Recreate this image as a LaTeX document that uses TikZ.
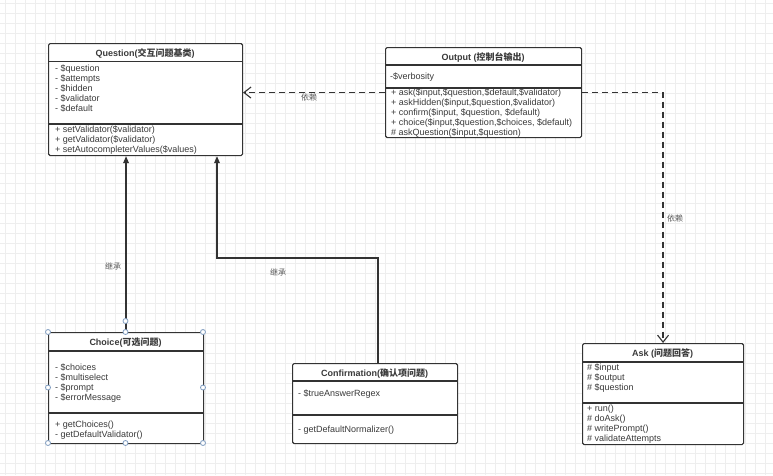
\documentclass[tikz,border=0pt]{standalone}
\usepackage{fontspec}
\setmainfont{Liberation Sans}
\newfontfamily\cjk{Noto Sans CJK SC}
\usetikzlibrary{arrows.meta}
\definecolor{linec}{HTML}{333333}
\definecolor{txtc}{HTML}{3A3A3A}
\definecolor{gridc}{HTML}{EEEEEE}
\definecolor{handlec}{HTML}{7F9CC0}
\newcommand{\zh}[1]{{\cjk #1}}
\newcommand{\memb}[4]{%
  \foreach \t [count=\i] in {#4} {%
    \node[mtxt] (#1\i) at ({#2},{#3+10*(\i-1)}) {\t};}}
\tikzset{
  umlbox/.style={draw=linec, line width=1.1pt, rounded corners=1.5pt, fill=white,
    inner sep=0pt, anchor=north west},
  mtxt/.style={anchor=base west, inner sep=0pt, text=txtc,
    font=\fontsize{9}{10}\selectfont},
  ttl/.style={anchor=base, inner sep=0pt, text=txtc,
    font=\fontsize{9}{10}\selectfont\bfseries},
  sepline/.style={draw=linec, line width=1.1pt},
  inherit/.style={draw=linec, line width=1.4pt, -{Triangle[length=7pt,width=5.5pt]}},
  depend/.style={draw=linec, line width=1.2pt, dash pattern=on 6pt off 4pt,
    -{Straight Barb[length=7pt,width=11pt,line width=1.1pt]}},
  lbl/.style={inner sep=0pt, text=txtc!85, font=\fontsize{8}{9}\selectfont},
  handle/.style={circle, draw=handlec, fill=white, line width=0.8pt,
    minimum size=5pt, inner sep=0pt}
}
\begin{document}
\begin{tikzpicture}[x=1pt,y=-1pt]
\useasboundingbox (0,0) rectangle (773,475);
\fill[white] (0,0) rectangle (773,475);
% grid
\foreach \gx in {5,15,...,775} \draw[gridc, line width=0.5pt] (\gx,0) -- (\gx,475);
\foreach \gy in {3,13,...,475} \draw[gridc, line width=0.5pt] (0,\gy) -- (773,\gy);

% ---------- Question ----------
\node[umlbox, minimum width=194pt, minimum height=112pt] (question) at (48,43) {};
\draw[sepline] (question.west |- 0,61.5) -- (question.east |- 0,61.5);
\draw[sepline] (question.west |- 0,124) -- (question.east |- 0,124);
\node[ttl] (questiont) at (145,56.5) {Question(\zh{交互问题基类})};
\memb{qa}{55}{71}{{- \$question},{- \$attempts},{- \$hidden},{- \$validator},{- \$default}}
\memb{qm}{55}{132}{{+ setValidator(\$validator)},{+ getValidator(\$validator)},{+ setAutocompleterValues(\$values)}}

% ---------- Output ----------
\node[umlbox, minimum width=196pt, minimum height=90pt] (output) at (385,47) {};
\draw[sepline] (output.west |- 0,65) -- (output.east |- 0,65);
\draw[sepline] (output.west |- 0,88) -- (output.east |- 0,88);
\node[ttl] (outputt) at (483,60.5) {Output (\zh{控制台输出})};
\memb{oa}{390}{79.5}{{-\$verbosity}}
\memb{om}{391}{95.5}{{+ ask(\$input,\$question,\$default,\$validator)},{+ askHidden(\$input,\$question,\$validator)},{+ confirm(\$input, \$question, \$default)},{+ choice(\$input,\$question,\$choices, \$default)},{\# askQuestion(\$input,\$question)}}

% ---------- Choice ----------
\node[umlbox, minimum width=155pt, minimum height=111pt] (choice) at (48,332) {};
\draw[sepline] (choice.west |- 0,351) -- (choice.east |- 0,351);
\draw[sepline] (choice.west |- 0,413) -- (choice.east |- 0,413);
\node[ttl] (choicet) at (125.5,345.5) {Choice(\zh{可选问题})};
\memb{ca}{55}{370.5}{{- \$choices},{- \$multiselect},{- \$prompt},{- \$errorMessage}}
\memb{cm}{55}{427.5}{{+ getChoices()},{- getDefaultValidator()}}

% ---------- Confirmation ----------
\node[umlbox, minimum width=165pt, minimum height=80pt] (conf) at (292,363) {};
\draw[sepline] (conf.west |- 0,381) -- (conf.east |- 0,381);
\draw[sepline] (conf.west |- 0,415) -- (conf.east |- 0,415);
\node[ttl] (conft) at (374.5,376.5) {Confirmation(\zh{确认项问题})};
\memb{fa}{298}{396.5}{{- \$trueAnswerRegex}}
\memb{fm}{298}{432.5}{{- getDefaultNormalizer()}}

% ---------- Ask ----------
\node[umlbox, minimum width=161pt, minimum height=101pt] (ask) at (582,343) {};
\draw[sepline] (ask.west |- 0,362) -- (ask.east |- 0,362);
\draw[sepline] (ask.west |- 0,403) -- (ask.east |- 0,403);
\node[ttl] (askt) at (662.5,356.5) {Ask (\zh{问题回答})};
\memb{aa}{587}{370.5}{{\# \$input},{\# \$output},{\# \$question}}
\memb{am}{587}{411}{{+ run()},{\# doAsk()},{\# writePrompt()},{\# validateAttempts}}

% ---------- connectors ----------
\draw[inherit] (choice.north) -- (choice.north |- question.south);
\coordinate (bend) at (217,258);
\draw[inherit] ([xshift=3pt]conf.north) |- (bend) -- (bend |- question.south);
\draw[depend] (output.west) -- (output.west -| question.east);
\draw[depend] (output.east) -| (ask.north);

\node[lbl] (l1) at (113,266) {\zh{继承}};
\node[lbl] (l2) at (278,272) {\zh{继承}};
\node[lbl] (l3) at (309,97) {\zh{依赖}};
\node[lbl] (l4) at (675,218) {\zh{依赖}};

% ---------- selection handles ----------
\foreach \hx/\hy [count=\k] in {48/332,125.5/332,203/332,48/387.5,203/387.5,48/443,125.5/443,203/443,125.5/321}
  \node[handle] (h\k) at (\hx,\hy) {};
\end{tikzpicture}
\end{document}
